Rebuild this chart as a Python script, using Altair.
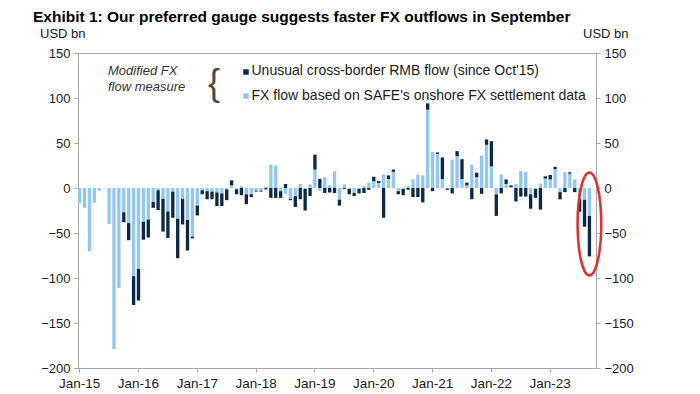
import altair as alt
import pandas as pd

# ---- categories -------------------------------------------------------
months = pd.date_range("2015-01-01", periods=106, freq="MS").strftime("%b-%y").tolist()
jan_ticks = [m for m in months if m.startswith("Jan")]

# ---- series (USD bn), Jan-15 .. Sep-23 --------------------------------
safe_fx = [
    -16.5, -22, -70, -16.5, -3, -0.5, -40, -179, -111,
    -27, -39, -98, -90, -37.5, -35, -15.5, -2.5, -12, -26,
    -4, -34, -12, -35.5, -54, -19.5, -2.5, -3.5, -4, -5,
    -6, -1.5, 3, -1.5, 2, -7, -7, -3, -3, 1,
    26, 25, -3.5, -6.5, -12, -9, 4.5, -1, 4, 20.5,
    -3, 12, 3, 18.5, -13, 4, -1, -5.5, -1, 2,
    6, 7.5, 5.7, 15, 10, 18, -3.5, -1, 2, 9.6,
    15, 14, 87, 40, 38, 10, -0.5, 31.5, 35.5, 10,
    3, 26, 12, 36, 48, 24, -7, 15, 4.5, 1,
    4.5, 19, 18, -7, -1, 5, 10.5, 9.5, 21, -4.6,
    17.5, 16, 9.6, -12, -13, -31,
]
unusual_rmb = [
    None, None, None, None, None, None, None, None, None,
    -11, -19, -32, -35, -20, -20, -6.5, -22, -36.5, -29.5,
    -29, -44, -28.5, -34, -2, -11, -4.5, -9, -8.5, -15,
    -14, -12, 5.5, -5.5, -8, -11, -3, -1, -1, -1.5,
    -11, -11, -7.5, 4.5, -1.5, -12, -12.5, -24, -9, 16.5,
    10, -5.5, -5, -5.5, -6.5, -1, -6, -3.5, -5, -5.5,
    -2, 5, 2, -33, 4, 2.5, -3.5, -7, -2, -10,
    -10, -16, 7, -3.5, 1.5, 24, -1.5, -6, 5.5, 22,
    3, -12.5, 5, -6.5, 6, 28, -24, -6, 5, 2,
    -15, -9.5, -9.5, -16, -10, -24, 2.5, 5, 2.5, -8,
    -4.6, 1.5, -4.6, -14.5, -30, -45,
]

series_safe = "FX flow based on SAFE's onshore FX settlement data"
series_rmb = "Unusual cross-border RMB flow (since Oct'15)"
LIGHT = "#93C7F0"
NAVY = "#0D2747"
GREY = "#A6A6A6"
FONT = "Liberation Sans"

rows = []
for i, m in enumerate(months[:105]):
    rows.append({"month": m, "series": series_safe, "ord": 0, "value": safe_fx[i]})
    if unusual_rmb[i] is not None:
        rows.append({"month": m, "series": series_rmb, "ord": 1, "value": unusual_rmb[i]})
df = pd.DataFrame(rows)

xscale = alt.Scale(domain=months, paddingInner=0.32, paddingOuter=0)
yscale = alt.Scale(domain=[-200, 150], nice=False, zero=False)
yvals = list(range(-200, 151, 50))

axis_common = dict(
    labelFont=FONT, labelColor="#1a1a1a",
    domainColor=GREY, tickColor=GREY, tickSize=4, grid=False, title=None,
)

bars = alt.Chart(df).mark_bar().encode(
    x=alt.X("month:O", scale=xscale,
            axis=alt.Axis(values=jan_ticks, labelAngle=0, labelPadding=4, labelFontSize=13.5,
                          **axis_common)),
    y=alt.Y("value:Q", stack="zero", scale=yscale,
            axis=alt.Axis(values=yvals, orient="left", labelPadding=4, labelFontSize=13,
                          **axis_common)),
    color=alt.Color("series:N",
                    scale=alt.Scale(domain=[series_safe, series_rmb], range=[LIGHT, NAVY]),
                    legend=None),
    order=alt.Order("ord:Q"),
)

ELLIPSE = ("M0,-1 C0.127,-1 0.23,-0.552 0.23,0 C0.23,0.552 0.127,1 0,1 "
           "C-0.127,1 -0.23,0.552 -0.23,0 C-0.23,-0.552 -0.127,-1 0,-1 Z")
ell_df = pd.DataFrame({"month": ["Sep-23"], "value": [-40]})
ellipse = alt.Chart(ell_df).mark_point(
    shape=ELLIPSE, size=10600, filled=False, color="#D8362F", strokeWidth=2.6, opacity=1
).encode(
    x=alt.X("month:O", scale=xscale, title=None),
    y=alt.Y("value:Q", scale=yscale,
            axis=alt.Axis(values=yvals, orient="right", labelPadding=4, labelFontSize=13,
                          **axis_common)),
)

one = pd.DataFrame({"k": [1]})


def txt(text, x, y, size=13, align="left", baseline="middle", **kw):
    return alt.Chart(one).mark_text(
        text=text, align=align, baseline=baseline, font=FONT, fontSize=size,
        color=kw.pop("color", "#1a1a1a"), **kw
    ).encode(x=alt.value(x), y=alt.value(y))


def sq(x, y, color):
    return alt.Chart(one).mark_point(shape="square", filled=True, size=30, color=color, opacity=1
                                     ).encode(x=alt.value(x), y=alt.value(y))


layers = [
    bars,
    ellipse,
    txt("Exhibit 1: Our preferred gauge suggests faster FX outflows in September",
        -45, -31, size=15.5, baseline="alphabetic", fontWeight="bold", color="#000000"),
    txt("USD bn", -38, -19),
    txt("USD bn", 505, -19),
    txt("Modified FX", 30, 18, fontStyle="italic", color="#333333"),
    txt("flow measure", 30, 34, fontStyle="italic", color="#333333"),
    txt("{", 136, 31, size=36, align="center", color="#4a4a4a"),
    sq(168, 19, NAVY),
    sq(168, 43, LIGHT),
    txt(series_rmb, 173.5, 18, size=14),
    txt(series_safe, 173.5, 43, size=14),
]

chart = alt.layer(*layers).resolve_axis(y="independent").properties(
    width=518, height=315,
    autosize=alt.AutoSizeParams(type="none"),
    padding={"left": 70, "top": 45, "right": 60, "bottom": 24},
).configure_view(stroke=GREY, strokeWidth=1)

chart.save("out.html", embed_options={"renderer": "svg", "actions": False})
